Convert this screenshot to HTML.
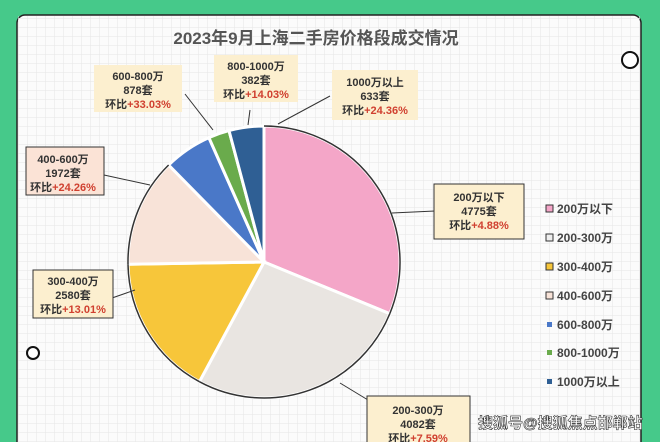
<!DOCTYPE html>
<html><head><meta charset="utf-8"><style>
body{margin:0;width:660px;height:442px;overflow:hidden;background:#46c98a;font-family:"Liberation Sans","Noto Sans CJK SC",sans-serif;}
</style></head><body>
<svg width="660" height="442" xmlns="http://www.w3.org/2000/svg" style="position:absolute;left:0;top:0">
<defs>
<pattern id="g" width="9" height="9" patternUnits="userSpaceOnUse"><path d="M9 0H0V9" fill="none" stroke="#e6e6e6" stroke-width="1"/></pattern>
</defs>
<rect x="17" y="15" width="624" height="440" rx="8" fill="#fbfbfb" stroke="#222" stroke-width="1.5"/>
<rect x="18" y="16" width="622" height="430" fill="url(#g)"/>
<text x="316" y="44" text-anchor="middle" font-size="17" font-weight="bold" fill="#555">2023年9月上海二手房价格段成交情况</text>
<circle cx="630" cy="60" r="8" fill="#fff" stroke="#111" stroke-width="2"/>
<circle cx="33" cy="353" r="6" fill="#fff" stroke="#111" stroke-width="2"/>
<g stroke="#fff" stroke-width="3">
<path d="M264 262L264 126A136 136 0 0 1 389.8 313.7Z" fill="#f4a6c8"/>
<path d="M264 262L389.8 313.7A136 136 0 0 1 199.4 381.7Z" fill="#e9e5e1"/>
<path d="M264 262L199.4 381.7A136 136 0 0 1 128 264.2Z" fill="#f7c63a"/>
<path d="M264 262L128 264.2A136 136 0 0 1 168.6 165Z" fill="#f8e3d8"/>
<path d="M264 262L168.6 165A136 136 0 0 1 208.9 137.6Z" fill="#4a78c8"/>
<path d="M264 262L208.9 137.6A136 136 0 0 1 229 130.6Z" fill="#6aab4c"/>
<path d="M264 262L229 130.6A136 136 0 0 1 264 126Z" fill="#2f5f94"/>
</g>
<g stroke="#333" stroke-width="1.5" fill="none">
<path d="M264 126A136 136 0 0 1 389.8 313.7"/>
<path d="M389.8 313.7A136 136 0 0 1 199.4 381.7"/>
<path d="M199.4 381.7A136 136 0 0 1 128 264.2"/>
<path d="M128 264.2A136 136 0 0 1 168.6 165"/>
</g>
<g stroke="#333" stroke-width="1" fill="none">
<line x1="392" y1="213" x2="435" y2="211"/>
<line x1="340" y1="383" x2="368" y2="400"/>
<line x1="112" y1="298" x2="135" y2="290"/>
<line x1="104" y1="175" x2="150" y2="185"/>
<line x1="185" y1="94" x2="213" y2="130"/>
<line x1="250" y1="110" x2="248" y2="125"/>
<line x1="330" y1="96" x2="278" y2="124"/>
</g>
<g font-size="11" font-weight="bold" fill="#333" text-anchor="middle">
<rect x="94" y="65" width="88" height="47" fill="#fcefcf"/>
<text x="138" y="80">600-800万</text><text x="138" y="94">878套</text><text x="138" y="108">环比<tspan fill="#d04030">+33.03%</tspan></text>
<rect x="214" y="55" width="84" height="47" fill="#fcefcf"/>
<text x="256" y="70">800-1000万</text><text x="256" y="84">382套</text><text x="256" y="98">环比<tspan fill="#d04030">+14.03%</tspan></text>
<rect x="332" y="70" width="86" height="50" fill="#fcefcf"/>
<text x="375" y="86">1000万以上</text><text x="375" y="100">633套</text><text x="375" y="114">环比<tspan fill="#d04030">+24.36%</tspan></text>
<rect x="26" y="147" width="78" height="48" fill="#fbe3d6" stroke="#333"/>
<text x="63" y="163">400-600万</text><text x="63" y="177">1972套</text><text x="63" y="191">环比<tspan fill="#d04030">+24.26%</tspan></text>
<rect x="33" y="270" width="80" height="48" fill="#fcefcf" stroke="#333"/>
<text x="73" y="285">300-400万</text><text x="73" y="299">2580套</text><text x="73" y="313">环比<tspan fill="#d04030">+13.01%</tspan></text>
<rect x="434" y="184" width="90" height="55" fill="#fcefcf" stroke="#333"/>
<text x="479" y="201">200万以下</text><text x="479" y="215">4775套</text><text x="479" y="229">环比<tspan fill="#d04030">+4.88%</tspan></text>
<rect x="367" y="396" width="103" height="50" fill="#fcefcf" stroke="#333"/>
<text x="418" y="414">200-300万</text><text x="418" y="428">4082套</text><text x="418" y="442">环比<tspan fill="#d04030">+7.59%</tspan></text>
</g>
<g font-size="12" font-weight="bold" fill="#444">
<rect x="546" y="205" width="7" height="7" fill="#f4a6c8" stroke="#333"/><text x="557" y="213">200万以下</text>
<rect x="546" y="234" width="7" height="7" fill="#eee" stroke="#333"/><text x="557" y="242">200-300万</text>
<rect x="546" y="263" width="7" height="7" fill="#f7c63a" stroke="#333"/><text x="557" y="271">300-400万</text>
<rect x="546" y="292" width="7" height="7" fill="#f8e3d8" stroke="#333"/><text x="557" y="300">400-600万</text>
<rect x="547" y="322" width="5" height="5" fill="#4a78c8"/><text x="557" y="329">600-800万</text>
<rect x="547" y="350" width="5" height="5" fill="#6aab4c"/><text x="557" y="357">800-1000万</text>
<rect x="547" y="379" width="5" height="5" fill="#2f5f94"/><text x="557" y="386">1000万以上</text>
</g>
<text x="478" y="428" font-size="15" font-weight="bold" fill="#fff" stroke="#333" stroke-width="0.6">搜狐号@搜狐焦点邯郸站</text>
<rect x="643" y="0" width="17" height="442" fill="#46c98a"/>
</svg>
</body></html>
